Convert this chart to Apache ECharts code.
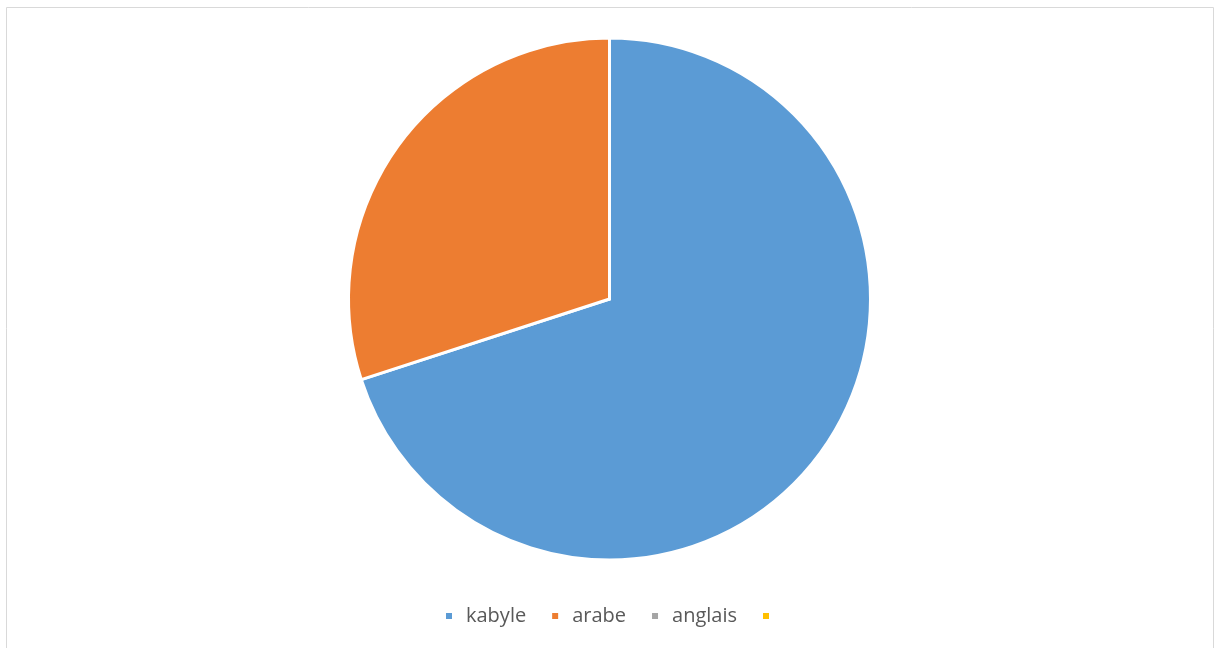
<!DOCTYPE html>
<html>
<head>
<meta charset="utf-8">
<script src="https://cdn.jsdelivr.net/npm/echarts@6/dist/echarts.min.js"></script>
<style>
  html, body { margin: 0; padding: 0; background: #fff; }
  #chart { width: 1222px; height: 648px; }
</style>
</head>
<body>
<div id="chart"></div>
<script>
// Languages and their shares
const categories = ['kabyle', 'arabe', 'anglais', ' '];
const values = [70, 30, 0, 0];
const colors = ['#5b9bd5', '#ed7d31', '#a5a5a5', '#ffc000'];

const chart = echarts.init(document.getElementById('chart'));

chart.setOption({
  animation: false,
  color: colors,
  graphic: [{
    type: 'rect',
    shape: { x: 6.5, y: 7.5, width: 1207, height: 660 },
    style: { fill: 'none', stroke: '#d9d9d9', lineWidth: 1 },
    silent: true
  }],
  legend: {
    data: categories,
    bottom: 17,
    left: 439,
    icon: 'rect',
    itemWidth: 8,
    itemHeight: 8,
    itemGap: 24,
    textStyle: {
      fontFamily: '"Open Sans", sans-serif',
      fontSize: 20,
      color: '#595959',
      padding: [0, 0, 0, 8]
    }
  },
  series: [{
    type: 'pie',
    center: [609.5, 299],
    radius: 261,
    startAngle: 90,
    clockwise: true,
    label: { show: false },
    labelLine: { show: false },
    itemStyle: { borderColor: '#fff', borderWidth: 3 },
    emphasis: { disabled: true },
    data: categories.map((name, i) => ({ name, value: values[i] }))
  }]
});
</script>
</body>
</html>
